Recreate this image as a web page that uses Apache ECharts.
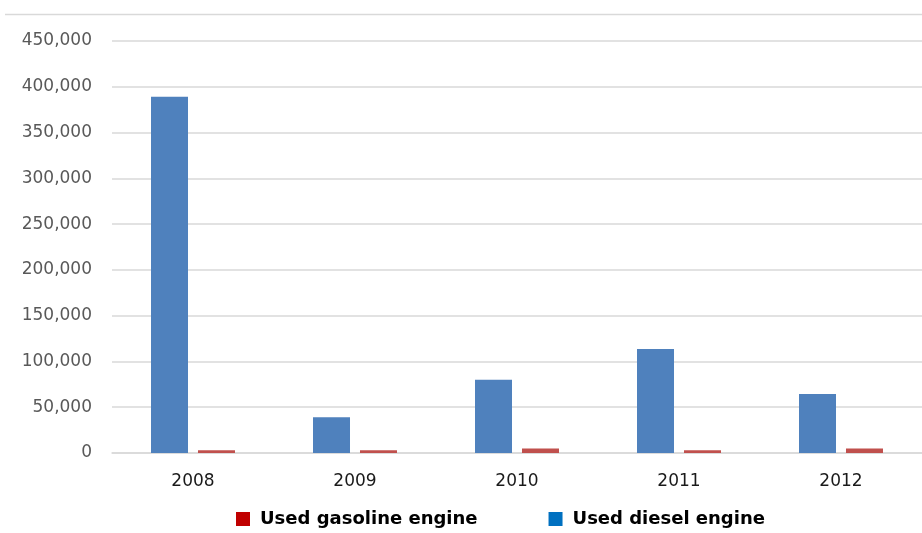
<!DOCTYPE html>
<html>
<head>
<meta charset="utf-8">
<script src="https://cdn.jsdelivr.net/npm/echarts@6/dist/echarts.min.js"></script>
<style>
  html, body { margin: 0; padding: 0; background: #fff; }
  #chart { width: 922px; height: 533px; }
</style>
</head>
<body>
<div id="chart"></div>
<script>
// values
var years = ['2008', '2009', '2010', '2011', '2012'];
var diesel = [389000, 39000, 80000, 113500, 64500];
var gasoline = [3000, 3000, 5000, 3000, 5000];

var chart = echarts.init(document.getElementById('chart'));
var font = '"DejaVu Sans", sans-serif';

chart.setOption({
    animation: false,
    textStyle: { fontFamily: font },
    graphic: [
        {
            type: 'line',
            shape: { x1: 5, y1: 14.5, x2: 922, y2: 14.5 },
            style: { stroke: '#d9d9d9', lineWidth: 1.5 }
        }
    ],
    grid: { left: 112, right: -5, top: 41, bottom: 80 },
    legend: {
        bottom: 0,
        left: 231,
        itemWidth: 14,
        itemHeight: 14,
        itemGap: 71,
        icon: 'rect',
        textStyle: {
            fontSize: 18, fontWeight: 'bold', color: '#000', fontFamily: font,
            padding: [0, 0, 0, 5]
        },
        data: [
            { name: 'Used gasoline engine', itemStyle: { color: '#C00000' } },
            { name: 'Used diesel engine', itemStyle: { color: '#0070C0' } }
        ]
    },
    xAxis: {
        type: 'category',
        data: years,
        axisTick: { show: false },
        axisLine: { lineStyle: { color: '#d9d9d9', width: 1.5 } },
        axisLabel: { fontSize: 17, color: '#1a1a1a', margin: 20 }
    },
    yAxis: {
        type: 'value',
        min: 0,
        max: 450000,
        interval: 50000,
        axisLine: { show: false },
        axisTick: { show: false },
        splitLine: { lineStyle: { color: '#d9d9d9', width: 1.5 } },
        axisLabel: {
            fontSize: 17,
            color: '#595959',
            margin: 20,
            padding: [3, 0, 0, 0],
            formatter: function (v) { return v.toLocaleString('en-US'); }
        }
    },
    series: [
        {
            name: 'Used diesel engine',
            type: 'bar',
            data: diesel,
            barWidth: 37,
            barGap: '27%',
            itemStyle: { color: '#4F81BD' }
        },
        {
            name: 'Used gasoline engine',
            type: 'bar',
            data: gasoline,
            barWidth: 37,
            itemStyle: { color: '#C0504D' }
        }
    ]
});
</script>
</body>
</html>
